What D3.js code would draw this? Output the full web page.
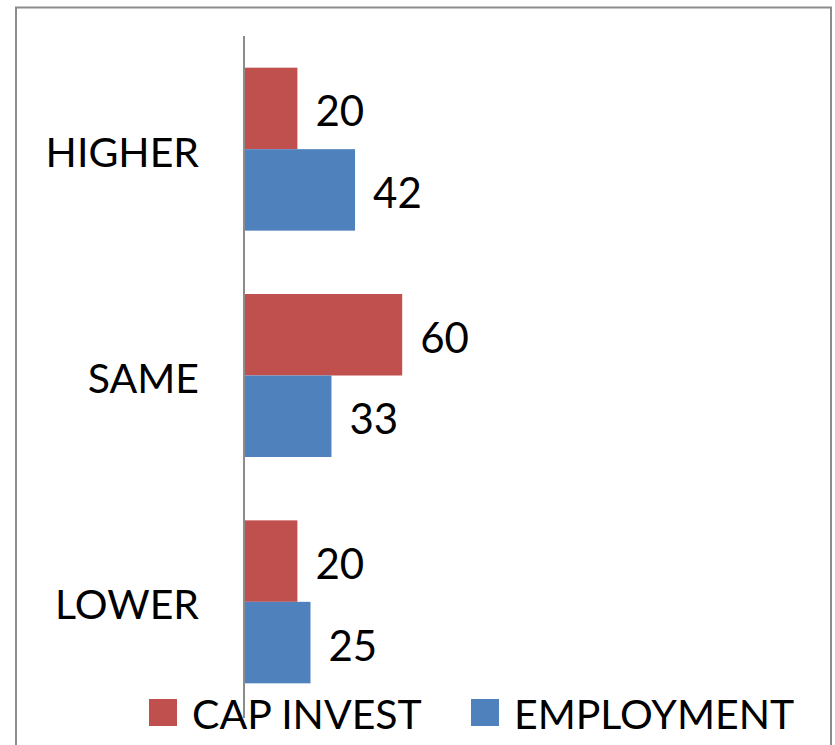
<!DOCTYPE html>
<html>
<head>
<meta charset="utf-8">
<script src="https://cdn.jsdelivr.net/npm/d3@7"></script>
<style>
  html, body { margin: 0; padding: 0; background: #fff; }
  svg { display: block; }
  text { font-family: Lato, "Open Sans", sans-serif; fill: #000; }
</style>
</head>
<body>
<div id="chart"></div>
<script>
(function () {
  'use strict';

  /* ---- Data ---- */
  const categories = ['HIGHER', 'SAME', 'LOWER'];
  const seriesNames = ['CAP INVEST', 'EMPLOYMENT'];
  const capInvest = [20, 60, 20];
  const employment = [42, 33, 25];
  const seriesColors = ['#C0504D', '#4F81BD'];

  const W = 835, H = 745;
  const FONT = 42;
  const LABEL_FONT = 41;

  const svg = d3.select('#chart').append('svg')
    .attr('width', W).attr('height', H);

  // chart frame (bottom edge runs off the picture)
  svg.append('rect')
    .attr('x', 16).attr('y', 7.5)
    .attr('width', 815).attr('height', 780)
    .attr('fill', 'none')
    .attr('stroke', '#8c8c8c')
    .attr('stroke-width', 2);

  const x0 = 245;
  const x = d3.scaleLinear().domain([0, 100]).range([x0, x0 + 262]);

  const y = d3.scaleBand()
    .domain(categories)
    .range([36, 715])
    .paddingInner(0.28)
    .paddingOuter(0.14);

  const ySeries = d3.scaleBand()
    .domain(seriesNames)
    .range([0, y.bandwidth()]);

  const rows = categories.map((c, i) => ({
    cat: c,
    values: [capInvest[i], employment[i]]
  }));

  const groups = svg.append('g').selectAll('g')
    .data(rows)
    .join('g')
      .attr('transform', d => `translate(0,${y(d.cat)})`);

  groups.selectAll('rect')
    .data(d => d.values.map((v, j) => ({ v, s: seriesNames[j], j })))
    .join('rect')
      .attr('x', x(0))
      .attr('y', d => ySeries(d.s))
      .attr('width', d => x(d.v) - x(0))
      .attr('height', ySeries.bandwidth())
      .attr('fill', d => seriesColors[d.j]);

  groups.selectAll('text.val')
    .data(d => d.values.map((v, j) => ({ v, s: seriesNames[j] })))
    .join('text')
      .attr('class', 'val')
      .attr('x', d => x(d.v) + 18)
      .attr('y', d => ySeries(d.s) + ySeries.bandwidth() / 2 + 2)
      .attr('dominant-baseline', 'central')
      .style('font-size', FONT + 'px')
      .text(d => d.v);

  // category labels
  svg.append('g').selectAll('text')
    .data(categories)
    .join('text')
      .attr('x', 199)
      .attr('y', d => y(d) + y.bandwidth() / 2 + 2)
      .attr('text-anchor', 'end')
      .attr('dominant-baseline', 'central')
      .style('font-size', LABEL_FONT + 'px')
      .text(d => d);

  // vertical axis line
  svg.append('line')
    .attr('x1', x0 - 1).attr('x2', x0 - 1)
    .attr('y1', 36).attr('y2', 718)
    .attr('stroke', '#8c8c8c')
    .attr('stroke-width', 2);

  // legend
  const legendX = [149, 471];
  const legend = svg.append('g').selectAll('g')
    .data(seriesNames)
    .join('g')
      .attr('transform', (d, i) => `translate(${legendX[i]},699)`);

  legend.append('rect')
    .attr('width', 28).attr('height', 27)
    .attr('fill', (d, i) => seriesColors[i]);

  legend.append('text')
    .attr('x', 43)
    .attr('y', 14)
    .attr('dominant-baseline', 'central')
    .style('font-size', LABEL_FONT + 'px')
    .text(d => d);
})();
</script>
</body>
</html>
